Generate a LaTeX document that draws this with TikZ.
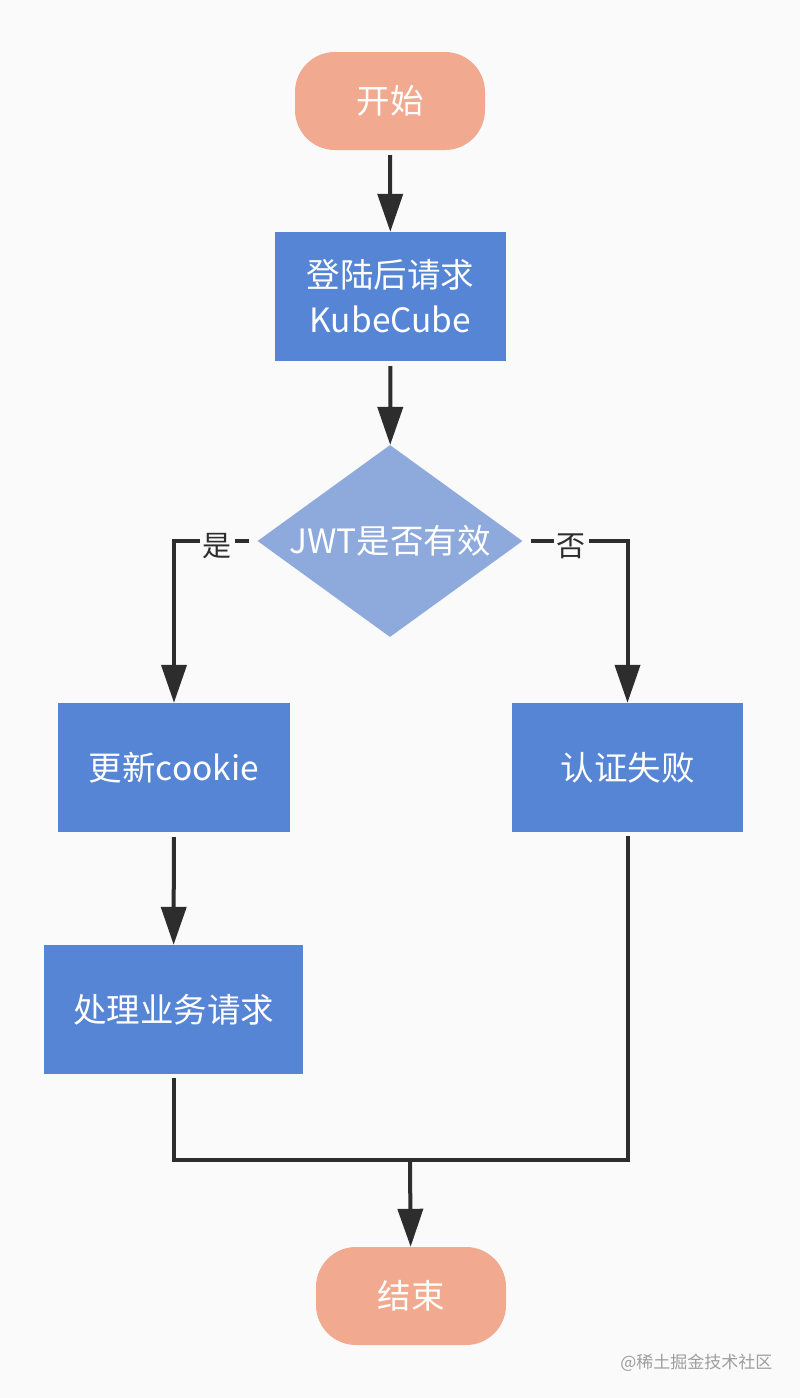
\documentclass[tikz,border=0pt]{standalone}
\usepackage{fontspec}
\setmainfont{Noto Sans CJK SC}
\usepackage{tikz}
\usetikzlibrary{arrows.meta,shapes.geometric}
\definecolor{bgcol}{HTML}{FAFAFA}
\definecolor{salmon}{HTML}{F1AA8F}
\definecolor{boxblue}{HTML}{5585D4}
\definecolor{decblue}{HTML}{8EAADC}
\definecolor{linecol}{HTML}{2D2D2D}
\begin{document}
\begin{tikzpicture}[x=1pt,y=-1pt,line join=miter,>={Triangle[length=38pt,width=25pt]},
    terminal/.style={draw=none,fill=salmon,text=white,rounded corners=40pt,minimum width=190pt,minimum height=98pt,font=\fontsize{33.5}{45}\selectfont},
    process/.style={draw=none,fill=boxblue,text=white,align=center,minimum height=129pt,font=\fontsize{33.5}{45}\selectfont},
    decision/.style={diamond,draw=none,fill=decblue,text=white,aspect=1.38,inner sep=0pt,minimum width=265pt,minimum height=192pt,font=\fontsize{33.5}{45}\selectfont},
    flow/.style={draw=linecol,line width=4pt},
    choice/.style={fill=bgcol,text=linecol,inner sep=3pt,font=\fontsize{29}{32}\selectfont}]
    \useasboundingbox (0,0) rectangle (800,1398);
    \fill[bgcol] (0,0) rectangle (800,1398);
    \node[terminal] (start) at (390,101) {开始};
    \node[process,minimum width=231pt] (login) at (390.5,296.5) {登陆后请求\\KubeCube};
    \node[decision] (check) at (390,541) {JWT是否有效};
    \node[process,minimum width=232pt] (renew) at (174,767.5) {更新cookie};
    \node[process,minimum width=231pt] (fail) at (627.5,767.5) {认证失败};
    \node[process,minimum width=259pt] (handle) at (173.5,1009.5) {处理业务请求};
    \node[terminal] (finish) at (411,1296) {结束};
    \coordinate (merge) at (410,1160);
    \draw[flow,->,shorten <=5pt] (start) -- (login);
    \draw[flow,->,shorten <=5pt] (login) -- (check);
    \draw[flow,->,shorten <=8pt] (check.west) -| (renew.north);
    \draw[flow,->,shorten <=8pt] (check.east) -| (fail.north);
    \draw[flow,->,shorten <=5pt] (renew) -- (handle);
    \draw[flow,shorten <=4pt] (handle.south) |- (merge);
    \draw[flow,shorten <=4pt] (fail.south) |- (merge);
    \draw[flow,->] (merge) -- (finish);
    \node[choice] (yes) at (217,546) {是};
    \node[choice] (no) at (571,546) {否};
    \node[text=black!38,anchor=east,font=\fontsize{17}{20}\selectfont] (mark) at (776,1363) {@稀土掘金技术社区};
\end{tikzpicture}
\end{document}
